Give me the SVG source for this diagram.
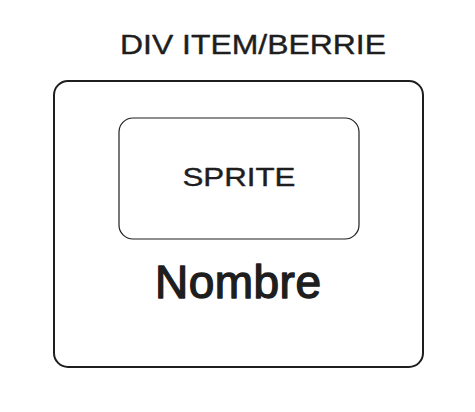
<svg xmlns="http://www.w3.org/2000/svg" width="475" height="412" viewBox="0 0 475 412">
<style>
.t{font-family:"Liberation Sans",sans-serif;fill:#1e1e1e;text-anchor:middle;stroke:#1e1e1e;stroke-width:0.4;stroke-linejoin:round}
.b{fill:none;stroke:#1e1e1e;stroke-linecap:round;stroke-linejoin:round}
</style>
<rect width="475" height="412" fill="#ffffff"/>
<g id="title"><text class="t" x="253" y="54" font-size="27" textLength="266" lengthAdjust="spacingAndGlyphs">DIV ITEM/BERRIE</text></g>
<g id="outer"><rect class="b" x="54" y="81" width="369" height="286" rx="14" stroke-width="2"/></g>
<g id="sprite"><rect class="b" x="119" y="118" width="240" height="121" rx="14" stroke-width="1.2"/>
<text class="t" x="239" y="186" font-size="26" textLength="113" lengthAdjust="spacingAndGlyphs">SPRITE</text></g>
<g id="nombre"><text class="t" x="238" y="298" font-size="46" style="stroke-width:1.4" textLength="166" lengthAdjust="spacing">Nombre</text></g>
<g id="connectors"/>
</svg>
